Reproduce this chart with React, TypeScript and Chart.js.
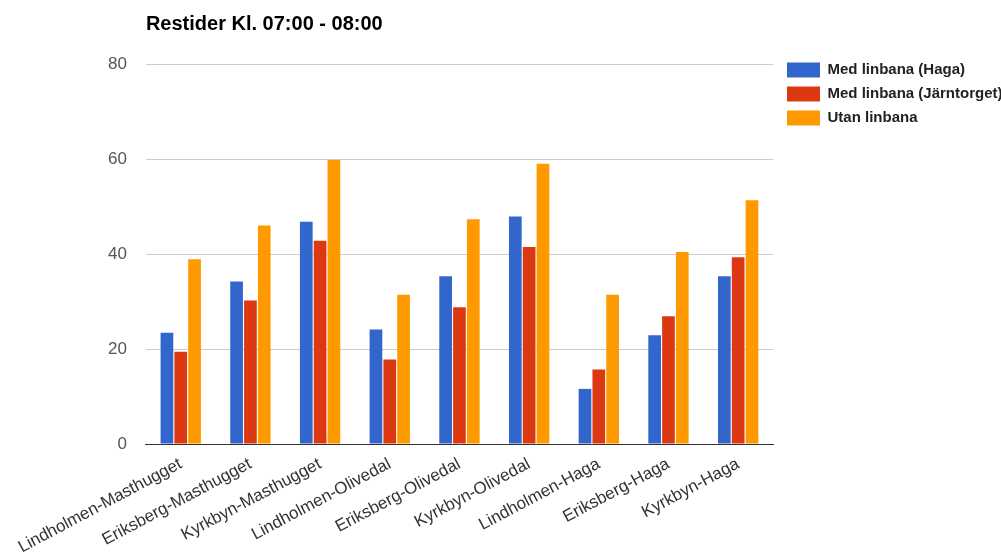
import React, { useEffect, useRef } from "react";
import { Chart, registerables } from "chart.js";

Chart.register(...registerables);

const TITLE = "Restider Kl. 07:00 - 08:00";
const categories = [
  "Lindholmen-Masthugget",
  "Eriksberg-Masthugget",
  "Kyrkbyn-Masthugget",
  "Lindholmen-Olivedal",
  "Eriksberg-Olivedal",
  "Kyrkbyn-Olivedal",
  "Lindholmen-Haga",
  "Eriksberg-Haga",
  "Kyrkbyn-Haga",
];
const seriesNames = ["Med linbana (Haga)", "Med linbana (Järntorget)", "Utan linbana"];
const medHaga = [23.4, 34.2, 46.8, 24.1, 35.3, 47.9, 11.6, 22.9, 35.3];
const medJarntorget = [19.4, 30.2, 42.8, 17.8, 28.8, 41.5, 15.7, 26.9, 39.3];
const utanLinbana = [38.9, 46, 59.8, 31.4, 47.3, 59, 31.4, 40.4, 51.3];
const yTicks = [0, 20, 40, 60, 80];

const colors = ["#3366cc", "#dc3912", "#ff9900"];
const FONT = "'Liberation Sans', Arial, sans-serif";

const legendShift = {
  id: "legendShift",
  afterLayout(chart: any) {
    const l = chart.legend;
    if (l) {
      l.left += 5;
      l.right += 5;
    }
  },
};

export default function App() {
  const ref = useRef<HTMLCanvasElement>(null);
  useEffect(() => {
    if (!ref.current) return;
    const data = [medHaga, medJarntorget, utanLinbana];
    const chart = new Chart(ref.current, {
      type: "bar",
      data: {
        labels: categories,
        datasets: seriesNames.map((name, i) => ({
          label: name,
          data: data[i],
          backgroundColor: colors[i],
          borderWidth: 0,
          barPercentage: 0.92,
          categoryPercentage: 0.595,
        })),
      },
      options: {
        responsive: false,
        animation: false,
        layout: { padding: { top: 0, left: 89, right: 0, bottom: 0 } },
        plugins: {
          tooltip: { enabled: false },
          title: {
            display: true,
            text: TITLE,
            position: "top",
            align: "start",
            fullSize: false,
            color: "#000",
            font: { family: FONT, size: 20, weight: "bold", lineHeight: 1.2 },
            padding: { top: 12, bottom: 28 },
          },
          legend: {
            position: "right",
            align: "start",
            maxWidth: 228,
            title: { display: true, text: "", font: { size: 10, lineHeight: 1.2 }, padding: 20.75 },
            labels: {
              boxWidth: 33,
              boxHeight: 15,
              padding: 9,
              color: "#222",
              font: { family: FONT, size: 15, weight: "bold" },
            },
          },
        },
        scales: {
          x: {
            grid: { display: false, drawTicks: false },
            border: { display: true, color: "#333", width: 1 },
            afterFit: (scale: any) => {
              scale.height = 113;
            },
            ticks: {
              color: "#333",
              font: { family: FONT, size: 17 },
              minRotation: 28,
              maxRotation: 28,
              autoSkip: false,
              padding: 10,
            },
          },
          y: {
            min: 0,
            max: 80,
            afterBuildTicks: (axis: any) => {
              axis.ticks = yTicks.map((v) => ({ value: v }));
            },
            grid: { color: "#cccccc", drawTicks: false },
            border: { display: false },
            ticks: {
              color: "#555",
              font: { family: FONT, size: 17 },
              padding: 19,
            },
          },
        },
      },
      plugins: [legendShift],
    });
    return () => chart.destroy();
  }, []);
  return (
    <div style={{ position: "absolute", left: 0, top: 0, width: 1001, height: 557, background: "#fff" }}>
      <canvas ref={ref} width={1001} height={557} />
    </div>
  );
}
